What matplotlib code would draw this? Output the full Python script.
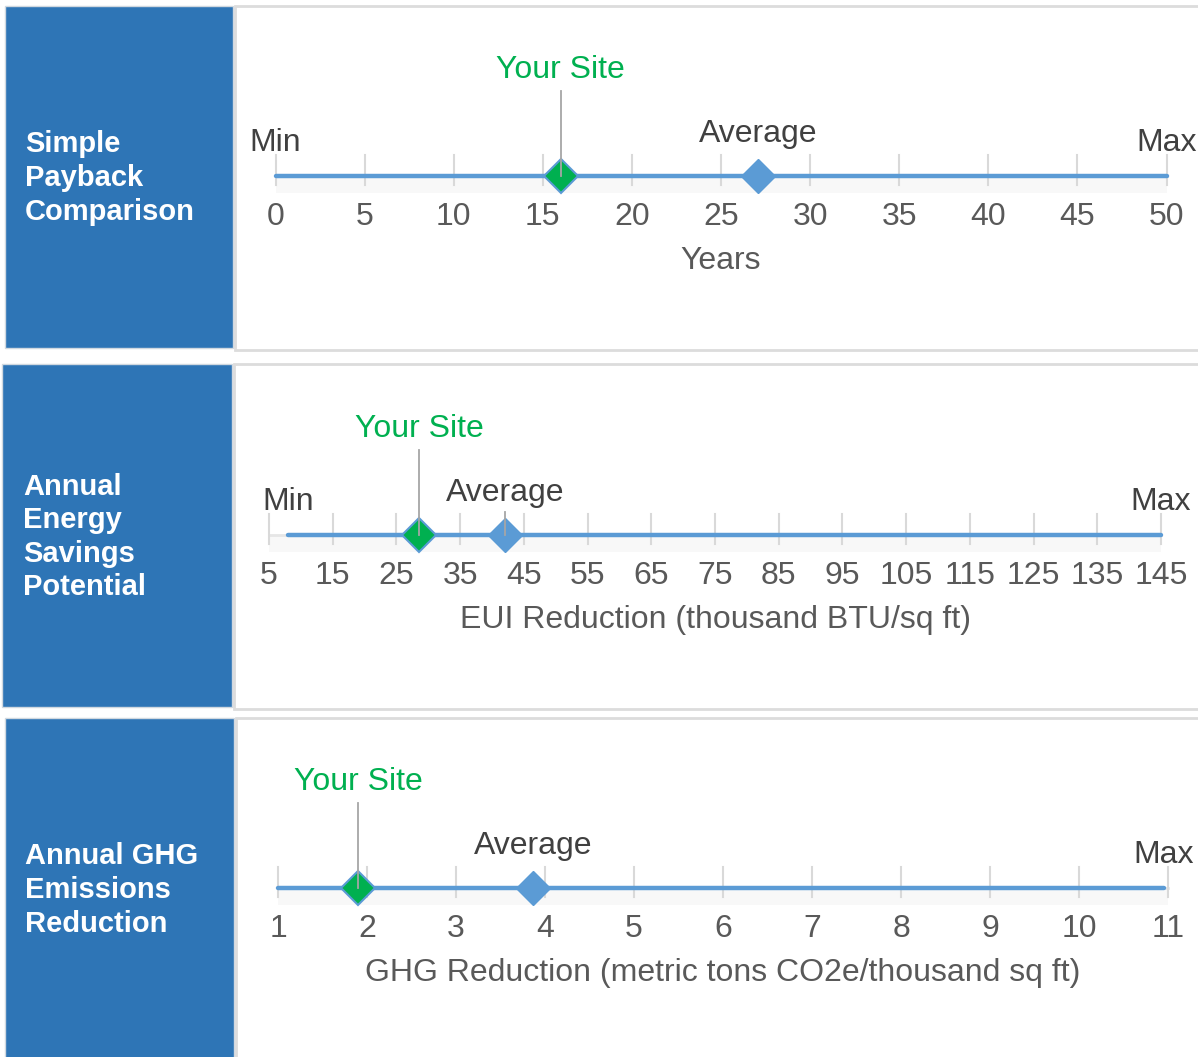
import matplotlib.pyplot as plt
from matplotlib.patches import Rectangle

# panel titles (left boxes)
titles = ["Simple\nPayback\nComparison",
          "Annual\nEnergy\nSavings\nPotential",
          "Annual GHG\nEmissions\nReduction"]
axis_titles = ["Years",
               "EUI Reduction (thousand BTU/sq ft)",
               "GHG Reduction (metric tons CO2e/thousand sq ft)"]

# scale ticks
ticks_payback = [0, 5, 10, 15, 20, 25, 30, 35, 40, 45, 50]
ticks_energy = [5, 15, 25, 35, 45, 55, 65, 75, 85, 95, 105, 115, 125, 135, 145]
ticks_ghg = [1, 2, 3, 4, 5, 6, 7, 8, 9, 10, 11]

# min / max of range, your site, average
range_min = [0, 8, 1]
range_max = [50, 145, 10.95]
your_site = [16.0, 28.6, 1.9]
average = [27.1, 42.0, 3.87]
show_min = [True, True, False]

W, H = 1198, 1057
BLUE_BOX = "#2E75B6"
LINE = "#5B9BD5"
GREEN = "#00B050"
DARK = "#404040"
MID = "#595959"
FS = 23

plt.rcParams["font.family"] = ["Liberation Sans", "DejaVu Sans"]

fig = plt.figure(figsize=(W / 100, H / 100), dpi=100)
fig.patch.set_facecolor("white")

# background layer in pixel coords
bg = fig.add_axes([0, 0, 1, 1])
bg.set_xlim(0, W)
bg.set_ylim(H, 0)
bg.axis("off")

# layout per panel: (box top, box bottom, blue x0, blue x1, white x0, line y, px of first tick, px of last tick, title x)
layout = [
    (6, 350, 5, 233, 235, 176, 275.5, 1166.5, 25),
    (364, 709, 2, 232, 234, 535, 269, 1161, 23),
    (718, 1070, 5, 234, 236, 888, 278, 1168, 25),
]
all_ticks = [ticks_payback, ticks_energy, ticks_ghg]

for i, (y0, y1, bx0, bx1, wx0, ly, px0, px1, tx) in enumerate(layout):
    bg.add_patch(Rectangle((wx0, y0), W + 10 - wx0, y1 - y0, facecolor="white",
                           edgecolor="#DCDCDC", lw=2))
    bg.add_patch(Rectangle((bx0, y0), bx1 - bx0, y1 - y0 - 2, facecolor=BLUE_BOX,
                           edgecolor="#D0D8E0", lw=1))
    bg.text(tx, ly + 2, titles[i], color="white", fontsize=21, fontweight="bold",
            ha="left", va="center", linespacing=1.25)

    ticks = all_ticks[i]
    ax = fig.add_axes([px0 / W, 1 - y1 / H, (px1 - px0) / W, (y1 - y0) / H])
    ax.set_xlim(ticks[0], ticks[-1])
    ax.set_ylim(y1, y0)
    ax.axis("off")

    lo, hi = range_min[i], range_max[i]
    # faint base and shading
    ax.plot([ticks[0], ticks[-1]], [ly, ly], color="#E6E6E6", lw=2, zorder=1, clip_on=False)
    ax.add_patch(Rectangle((ticks[0], ly), ticks[-1] - ticks[0], 17, facecolor="#F8F8F8",
                           edgecolor="none", zorder=0))
    for t in ticks:
        ax.plot([t, t], [ly - 21, ly + 9], color="#D9D9D9", lw=1.5, zorder=2, clip_on=False)
        ax.text(t, ly + 41, str(t), color=MID, fontsize=FS, ha="center", va="center")
    ax.plot([lo, hi], [ly, ly], color=LINE, lw=3.2, solid_capstyle="round", zorder=3,
            clip_on=False)

    ax.text((ticks[0] + ticks[-1]) / 2, ly + 85, axis_titles[i], color=MID, fontsize=FS,
            ha="center", va="center")
    if show_min[i]:
        ax.text(lo, ly - 33, "Min", color=DARK, fontsize=FS, ha="center", va="center")
    ax.text(hi, ly - 33, "Max", color=DARK, fontsize=FS, ha="center", va="center")

    # average
    ax.plot(average[i], ly, marker="D", ms=17, color=LINE, mec=LINE, zorder=4, clip_on=False)
    ax.text(average[i], ly - 42, "Average", color=DARK, fontsize=FS, ha="center", va="center")
    if i == 1:
        ax.plot([average[i], average[i]], [ly - 23, ly], color="#A6A6A6", lw=1.3, zorder=6)

    # your site
    ax.plot(your_site[i], ly, marker="D", ms=17, color=GREEN, mec=LINE, mew=1.5, zorder=5,
            clip_on=False)
    ax.plot([your_site[i], your_site[i]], [ly - 85, ly], color="#A6A6A6", lw=1.3, zorder=6)
    ax.text(your_site[i], ly - 106, "Your Site", color=GREEN, fontsize=FS, ha="center",
            va="center")

fig.savefig("out.png", dpi=100, facecolor="white")
